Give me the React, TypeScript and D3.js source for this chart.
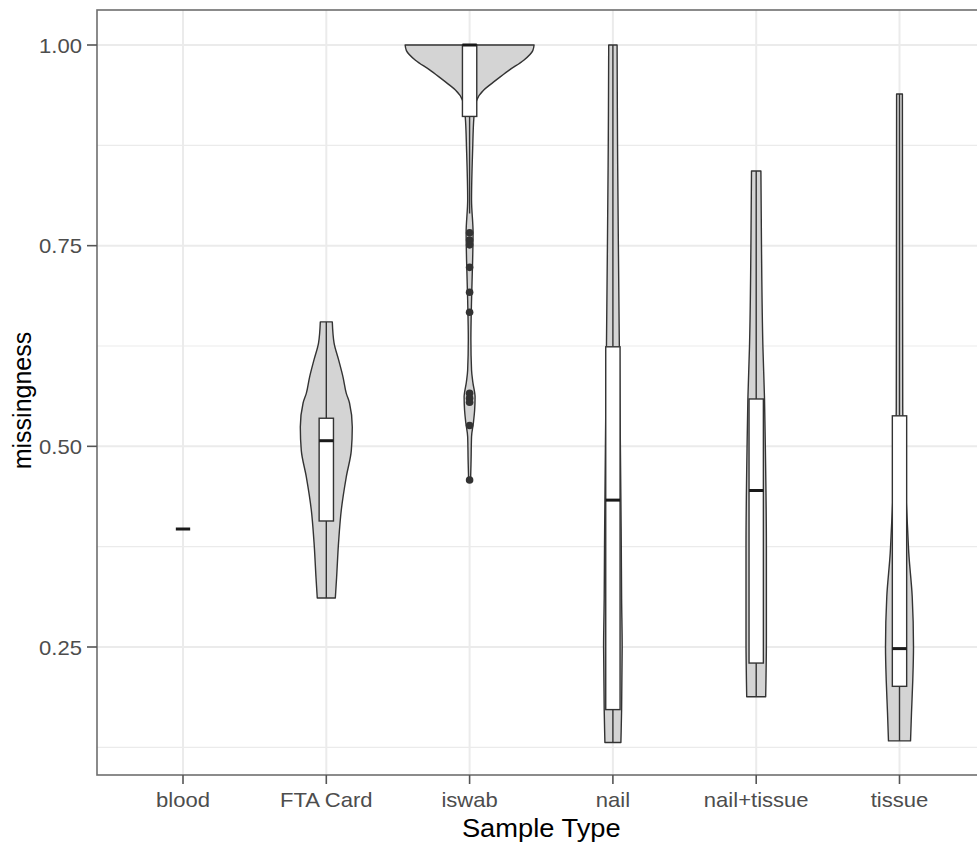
import React from "react";
import * as d3 from "d3";

const categories = ["blood", "FTA Card", "iswab", "nail", "nail+tissue", "tissue"];

// violin density profiles: [value, relative half-width]
const violinFTA: [number, number][] = [
  [0.311, 0.14], [0.337, 0.16], [0.38, 0.19], [0.421, 0.233], [0.462, 0.31], [0.495, 0.388],
  [0.524, 0.403], [0.554, 0.36], [0.566, 0.31], [0.586, 0.26], [0.608, 0.19], [0.629, 0.12], [0.655, 0.093],
];
const violinIswab: [number, number][] = [
  [0.458, 0.015], [0.483, 0.023], [0.512, 0.03], [0.53, 0.06], [0.545, 0.078], [0.561, 0.085],
  [0.58, 0.05], [0.595, 0.03], [0.633, 0.02], [0.682, 0.03], [0.732, 0.047], [0.766, 0.054],
  [0.807, 0.03], [0.869, 0.047], [0.91, 0.067], [0.931, 0.11], [0.944, 0.22], [0.95, 0.31],
  [0.96, 0.47], [0.969, 0.62], [0.981, 0.84], [0.993, 0.98], [1.0, 1.0],
];
const violinNail: [number, number][] = [
  [0.131, 0.124], [0.172, 0.135], [0.25, 0.144], [0.31, 0.135], [0.375, 0.13], [0.5, 0.116],
  [0.624, 0.1], [0.75, 0.085], [0.875, 0.072], [1.0, 0.065],
];
const violinNailTissue: [number, number][] = [
  [0.188, 0.147], [0.259, 0.158], [0.375, 0.158], [0.508, 0.14], [0.559, 0.129], [0.624, 0.104],
  [0.749, 0.082], [0.843, 0.073],
];
const violinTissue: [number, number][] = [
  [0.133, 0.171], [0.168, 0.186], [0.209, 0.206], [0.25, 0.217], [0.313, 0.197], [0.367, 0.144],
  [0.4, 0.124], [0.45, 0.093], [0.55, 0.05], [0.75, 0.047], [0.939, 0.045],
];
const violins: ([number, number][] | null)[] = [null, violinFTA, violinIswab, violinNail, violinNailTissue, violinTissue];

// box stats: [lower whisker, q1, median, q3, upper whisker]
const boxLow = [0.397, 0.311, 0.79, 0.131, 0.188, 0.133];
const boxQ1 = [0.397, 0.407, 0.911, 0.172, 0.23, 0.201];
const boxMed = [0.397, 0.507, 1.0, 0.433, 0.445, 0.248];
const boxQ3 = [0.397, 0.535, 1.0, 0.624, 0.559, 0.538];
const boxHigh = [0.397, 0.655, 1.0, 1.0, 0.843, 0.939];

const iswabOutliers = [0.766, 0.757, 0.751, 0.723, 0.692, 0.667, 0.566, 0.56, 0.555, 0.526, 0.458];

const yTicks = [0.25, 0.5, 0.75, 1.0];
const yMinor = [0.125, 0.375, 0.625, 0.875];

const W = 977, H = 842;
const panel = { left: 97, top: 10, right: 985.5, bottom: 775 };
const FONT = "'Liberation Sans', Arial, Helvetica, sans-serif";
const SX = 1.05;

export default function App() {
  const x = d3.scalePoint<string>().domain(categories).range([183, 899.5]);
  const step = x.step();
  const y = d3.scaleLinear().domain([0.25, 1.0]).range([647, 45]);
  const maxHW = 0.45 * step;
  const boxHW = 0.05 * step;

  return (
    <svg width={W} height={H} style={{ position: "absolute", left: 0, top: 0, background: "#fff" }}
      fontFamily={FONT}>
      <defs>
        <clipPath id="pclip">
          <rect x={panel.left} y={panel.top} width={panel.right - panel.left} height={panel.bottom - panel.top} />
        </clipPath>
      </defs>
      <rect x={panel.left} y={panel.top} width={panel.right - panel.left} height={panel.bottom - panel.top} fill="#fff" />
      <g clipPath="url(#pclip)">
        {yMinor.map((t) => (
          <line key={"mn" + t} x1={panel.left} x2={panel.right} y1={y(t)} y2={y(t)} stroke="#ebebeb" strokeWidth={1.1} />
        ))}
        {yTicks.map((t) => (
          <line key={"mj" + t} x1={panel.left} x2={panel.right} y1={y(t)} y2={y(t)} stroke="#ebebeb" strokeWidth={2} />
        ))}
        {categories.map((c) => (
          <line key={"vx" + c} x1={x(c)} x2={x(c)} y1={panel.top} y2={panel.bottom} stroke="#ebebeb" strokeWidth={2} />
        ))}
        {violins.map((v, i) => {
          if (!v) return null;
          const cx = x(categories[i])!;
          const area = d3.area<[number, number]>()
            .y((d) => y(d[0]))
            .x0((d) => cx - d[1] * maxHW)
            .x1((d) => cx + d[1] * maxHW)
            .curve(d3.curveMonotoneY);
          return <path key={"v" + i} d={area(v) || ""} fill="#d4d4d4" stroke="#333" strokeWidth={1.4} strokeLinejoin="round" />;
        })}
        {categories.map((c, i) => {
          const cx = x(c)!;
          return (
            <g key={"b" + i}>
              <line x1={cx} x2={cx} y1={y(boxQ3[i])} y2={y(boxHigh[i])} stroke="#333" strokeWidth={1.4} />
              <line x1={cx} x2={cx} y1={y(boxQ1[i])} y2={y(boxLow[i])} stroke="#333" strokeWidth={1.4} />
              <rect x={cx - boxHW} y={y(boxQ3[i])} width={2 * boxHW} height={Math.max(0, y(boxQ1[i]) - y(boxQ3[i]))}
                fill="#fff" stroke="#333" strokeWidth={1.4} />
              <line x1={cx - boxHW} x2={cx + boxHW} y1={y(boxMed[i])} y2={y(boxMed[i])} stroke="#1a1a1a" strokeWidth={3} />
            </g>
          );
        })}
        {iswabOutliers.map((o, j) => (
          <circle key={"o" + j} cx={x("iswab")} cy={y(o)} r={3.8} fill="#333" />
        ))}
      </g>
      <rect x={panel.left} y={panel.top} width={panel.right - panel.left} height={panel.bottom - panel.top}
        fill="none" stroke="#6e6e6e" strokeWidth={1.6} />
      {yTicks.map((t) => (
        <g key={"yt" + t}>
          <line x1={panel.left - 10} x2={panel.left} y1={y(t)} y2={y(t)} stroke="#555" strokeWidth={1.6} />
          <text transform={`translate(${panel.left - 15}, ${y(t)}) scale(${SX},1)`} dy="0.36em" textAnchor="end"
            fontSize={21} fill="#4d4d4d">{t.toFixed(2)}</text>
        </g>
      ))}
      {categories.map((c) => (
        <g key={"xt" + c}>
          <line x1={x(c)} x2={x(c)} y1={panel.bottom} y2={panel.bottom + 9} stroke="#555" strokeWidth={1.6} />
          <text transform={`translate(${x(c)}, 807) scale(${SX},1)`} textAnchor="middle" fontSize={21} fill="#4d4d4d">{c}</text>
        </g>
      ))}
      <text transform={`translate(${(panel.left + panel.right) / 2}, 837) scale(${SX},1)`} textAnchor="middle"
        fontSize={26} fill="#000">Sample Type</text>
      <text transform={`translate(31, ${(panel.top + panel.bottom) / 2 + 8}) rotate(-90)`} textAnchor="middle"
        fontSize={25} fill="#000">missingness</text>
    </svg>
  );
}
